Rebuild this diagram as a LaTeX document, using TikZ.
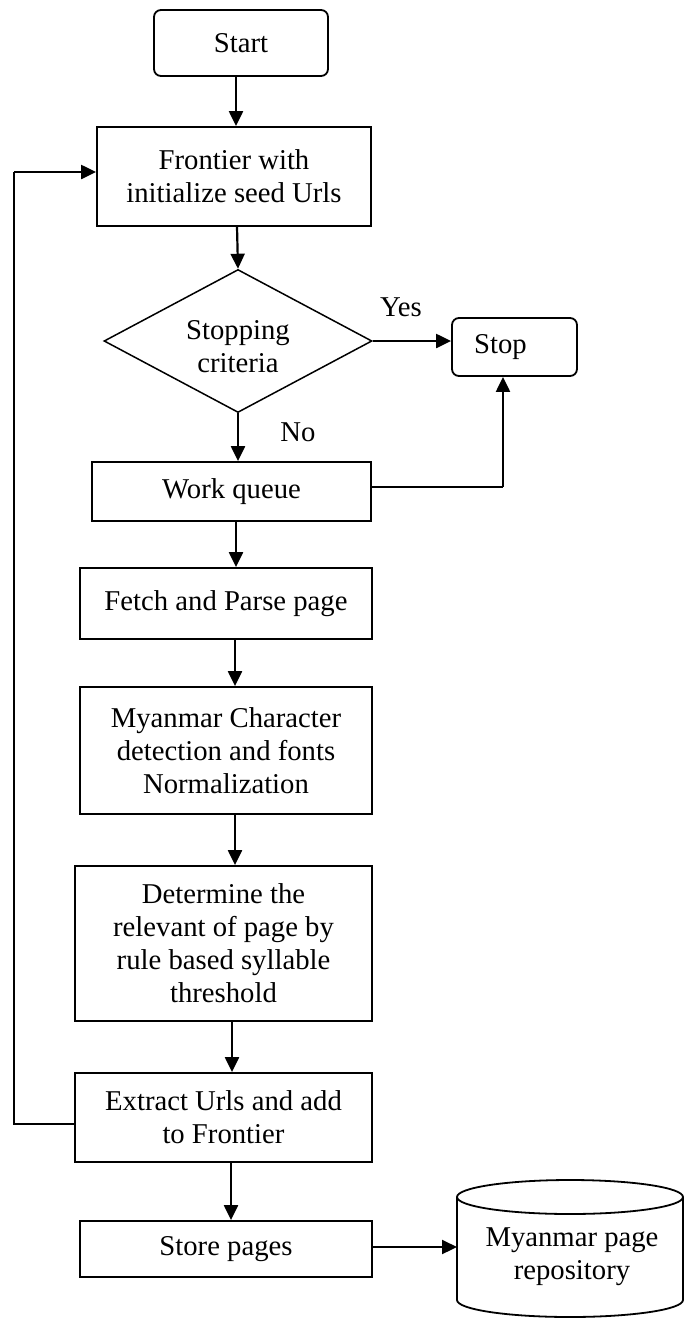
\documentclass[tikz,border=0pt]{standalone}
\usepackage{fontspec}
\setmainfont{Liberation Serif}
\usetikzlibrary{arrows.meta,shapes.geometric}
\begin{document}
\begin{tikzpicture}[x=1pt,y=1pt,
  every node/.style={font=\fontsize{28.7}{33}\selectfont, align=center, inner sep=0pt},
  pbox/.style={draw, line width=1.8pt},
  rbox/.style={draw, line width=1.8pt, rounded corners=7pt},
  decision/.style={draw, line width=1.5pt, diamond, aspect=1.87},
  arr/.style={line width=2.2pt, -{Triangle[length=15pt,width=14pt]}},
  plainline/.style={line width=1.8pt}
]
\useasboundingbox (0,0) rectangle (684,-1318);
\node[rbox, minimum width=174, minimum height=66] (start) at (241,-43) {Start};
\node[pbox, minimum width=274, minimum height=99] (front) at (234,-176.5) {Frontier with\\initialize seed Urls};
\node[decision, minimum width=268, minimum height=143, label={[yshift=-6pt]center:{Stopping\\criteria}}] (crit) at (238,-341) {};
\node[rbox, minimum width=125, minimum height=58] (stop) at (514.5,-347) {\hspace*{-28pt}Stop};
\node[pbox, minimum width=279, minimum height=59] (work) at (231.5,-491.5) {Work queue};
\node[pbox, minimum width=292, minimum height=71] (fetch) at (226,-603.5) {Fetch and Parse page};
\node[pbox, minimum width=292, minimum height=127] (myan) at (226,-750.5) {Myanmar Character\\detection and fonts\\Normalization};
\node[pbox, minimum width=297, minimum height=155] (det) at (223.5,-943.5) {Determine the\\relevant of page by\\rule based syllable\\threshold};
\node[pbox, minimum width=297, minimum height=89] (ext) at (223.5,-1117.5) {Extract Urls and add\\to Frontier};
\node[pbox, minimum width=292, minimum height=56] (store) at (226,-1249) {Store pages};
\node (repo) at (572,-1257) {Myanmar page\\repository};
\node (yes) at (401,-307) {Yes};
\node (no) at (298,-432) {No};

% cylinder
\coordinate (repoW) at (457,-1247);
\draw[line width=1.8pt] (457,-1197) -- (457,-1300) arc[start angle=180, end angle=360, x radius=113, y radius=17] -- (683,-1197);
\draw[line width=1.8pt] (570,-1197) ellipse [x radius=113, y radius=17];

% connectors
\coordinate (a1) at (236,-76);
\draw[arr] (a1) -- (a1 |- front.north);
\coordinate (a2) at (237,-226.5);
\draw[arr] (a2) -- (crit.north);
\draw[arr] (crit.south) -- (crit.south |- work.north);
\coordinate (a3) at (236,-521);
\draw[arr] (a3) -- (a3 |- fetch.north);
\coordinate (a4) at (235,-639);
\draw[arr] (a4) -- (a4 |- myan.north);
\coordinate (a5) at (235,-814);
\draw[arr] (a5) -- (a5 |- det.north);
\coordinate (a6) at (232,-1021);
\draw[arr] (a6) -- (a6 |- ext.north);
\coordinate (a7) at (231,-1162);
\draw[arr] (a7) -- (a7 |- store.north);
\draw[arr] (crit.east) -- (crit.east -| stop.west);
\coordinate (wq) at (503,-487);
\draw[plainline] (work.east |- wq) -- (wq);
\draw[arr] (wq) -- (wq |- stop.south);
\coordinate (fb1) at (14,-1124);
\coordinate (fb2) at (14,-172);
\draw[plainline] (ext.west |- fb1) -- (fb1) -- (fb2);
\draw[arr] (fb2) -- (fb2 -| front.west);
\draw[arr] (store.east |- repoW) -- (repoW);
\end{tikzpicture}
\end{document}
